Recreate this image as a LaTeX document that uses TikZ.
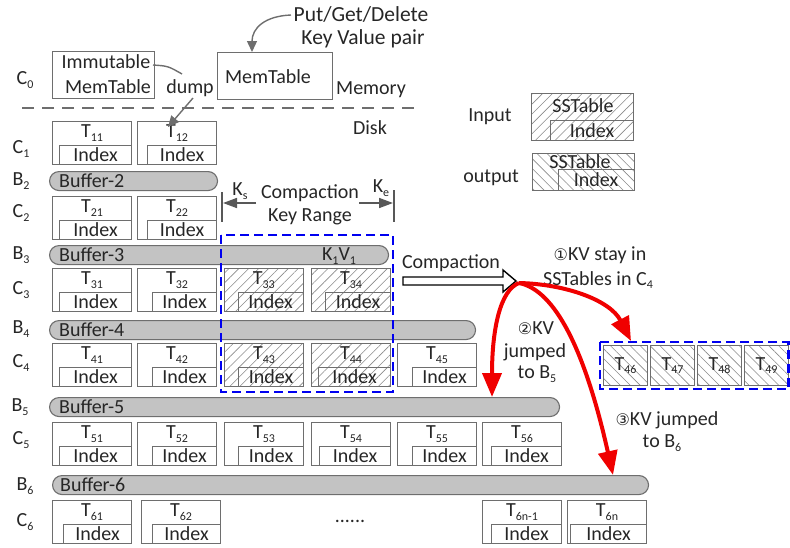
\documentclass[tikz,border=0pt]{standalone}
\usepackage{fontspec}
\setmainfont{Carlito}
\newfontfamily\symfont{DejaVu Sans}
\usetikzlibrary{arrows.meta,patterns.meta,calc}

\definecolor{ink}{HTML}{262626}
\definecolor{edge}{HTML}{6E6E6E}
\definecolor{bufgray}{HTML}{C3C3C3}
\definecolor{hatch}{HTML}{8A8A8A}
\definecolor{kvblue}{HTML}{0000F0}
\definecolor{kvred}{HTML}{F00000}

% lowered small index
\newcommand\lo[1]{\raisebox{-0.35ex}{\fontsize{12}{12}\selectfont #1}}
\newcommand\circnum[1]{{\symfont\fontsize{16}{16}\selectfont #1}}

\tikzset{
  every node/.style={font=\fontsize{20}{20}\selectfont, text=ink, inner sep=0pt},
  bigtext/.style={font=\fontsize{21.5}{21.5}\selectfont},
  tbox/.style={draw=edge, line width=1.1pt, minimum width=79pt, minimum height=43pt, anchor=north west},
  hatchin/.style={pattern={Lines[angle=45,distance=7pt,line width=0.6pt]}, pattern color=hatch},
  hatchout/.style={pattern={Lines[angle=-45,distance=7pt,line width=0.6pt]}, pattern color=hatch},
  idxbox/.style={draw=edge, line width=1.1pt, minimum height=19pt, anchor=south east},
  plainbox/.style={draw=edge, line width=1.1pt, anchor=north west},
  buf/.style={draw=edge, fill=bufgray, line width=1.1pt, rounded corners=9.5pt, minimum height=19pt, anchor=north west},
  thinarrow/.style={draw=edge, line width=1.4pt, -{Triangle[length=11pt,width=10pt]}},
  keyarrow/.style={draw=edge!80!black, line width=1.6pt, -{Triangle[length=14pt,width=10pt]}},
  keybar/.style={draw=edge!80!black, line width=2.5pt},
  redarrow/.style={draw=kvred, line width=4pt, -{Triangle[length=24pt,width=19pt]}},
  bluegroup/.style={draw=kvblue, line width=2.6pt, dash pattern=on 9pt off 5pt},
  cut/.style={draw=edge, line width=2pt, dash pattern=on 12pt off 8pt},
}

% SSTable: name, x, y, subscript, extra style, index inset
\newcommand\sst[6]{%
  \node[tbox,#5] (#1) at (#2,#3) {};
  \node[idxbox, minimum width={79-#6}] (#1x) at (#1.south east) {Index};
  \node (#1t) at ($(#1.north)+(0,12)$) {T\lo{#4}};
}
% small output SSTable of level 4
\newcommand\sso[3]{%
  \node[tbox, hatchout, minimum width=44pt, minimum height=40pt] (#1) at (#2,345) {};
  \node (#1t) at ($(#1.center)+(0,0)$) {T\lo{#3}};
}

\begin{document}
\begin{tikzpicture}[x=1pt,y=-1pt]
\useasboundingbox (0,0) rectangle (790,547);

% ---------------- memory level ----------------
\node[plainbox, minimum width=102pt, minimum height=47pt] (imm) at (52,51) {};
\node (immA) at (106,62) {Immutable};
\node (immB) at (108,87) {MemTable};
\node[plainbox, minimum width=115pt, minimum height=47pt] (mem) at (217,52) {};
\node (memT) at (268,77) {MemTable};
\node[bigtext] (put) at (361,14) {Put/Get/Delete};
\node[bigtext] (kvp) at (363,39) {Key Value pair};
\node (dump) at (190,88) {dump};
\node (memory) at (371,90) {Memory};
\node (disk) at (370,128) {Disk};

\coordinate (cutL) at (22,108);
\coordinate (cutR) at (418,108);
\draw[cut] (cutL) -- (cutR);

% row labels
\node (lc0) at (25,80) {C\lo{0}};
\node (lc1) at (21,149) {C\lo{1}};
\node (lb2) at (21,181) {B\lo{2}};
\node (lc2) at (21,213) {C\lo{2}};
\node (lb3) at (21,255) {B\lo{3}};
\node (lc3) at (21,290) {C\lo{3}};
\node (lb4) at (21,329) {B\lo{4}};
\node (lc4) at (21,363) {C\lo{4}};
\node (lb5) at (20,407) {B\lo{5}};
\node (lc5) at (21,440) {C\lo{5}};
\node (lb6) at (25,486) {B\lo{6}};
\node (lc6) at (25,522) {C\lo{6}};

% ---------------- levels on disk ----------------
\sst{t11}{52}{121}{11}{}{7}
\sst{t12}{137}{121}{12}{}{10}

\node[buf, minimum width=168pt] (b2) at (49,171) {};
\node[anchor=west] (b2t) at ($(b2.west)+(10,0)$) {Buffer-2};

\sst{t21}{52}{196}{21}{}{7}
\sst{t22}{137}{196}{22}{}{10}

\node[buf, minimum width=339pt] (b3) at (49,245) {};
\node[anchor=west] (b3t) at ($(b3.west)+(10,0)$) {Buffer-3};
\node (kv1) at (339,256) {K\lo{1}V\lo{1}};

\sst{t31}{52}{268}{31}{}{7}
\sst{t32}{137}{268}{32}{}{15}
\sst{t33}{224}{268}{33}{hatchin}{14}
\sst{t34}{311}{268}{34}{hatchin}{14}

\node[buf, minimum width=426pt] (b4) at (49,320) {};
\node[anchor=west] (b4t) at ($(b4.west)+(10,0)$) {Buffer-4};

\sst{t41}{52}{343}{41}{}{7}
\sst{t42}{137}{343}{42}{}{15}
\sst{t43}{224}{343}{43}{hatchin}{14}
\sst{t44}{311}{343}{44}{hatchin}{7}
\sst{t45}{397}{343}{45}{}{15}

\node[buf, minimum width=510pt] (b5) at (49,397) {};
\node[anchor=west] (b5t) at ($(b5.west)+(10,0)$) {Buffer-5};

\sst{t51}{52}{422}{51}{}{7}
\sst{t52}{137}{422}{52}{}{15}
\sst{t53}{224}{422}{53}{}{14}
\sst{t54}{311}{422}{54}{}{8}
\sst{t55}{397}{422}{55}{}{15}
\sst{t56}{482}{422}{56}{}{9}

\node[buf, minimum width=596pt] (b6) at (52,475) {};
\node[anchor=west] (b6t) at ($(b6.west)+(8,0)$) {Buffer-6};

\sst{t61}{52}{500}{61}{}{11}
\sst{t62}{141}{500}{62}{}{11}
\node (dots) at (350,521) {......};
\sst{t6m}{482}{500}{6n-1}{}{9}
\sst{t6n}{567}{500}{6n}{}{3}

% ---------------- legend ----------------
\node (inlab) at (490,117) {Input};
\node[plainbox, hatchin, minimum width=102pt, minimum height=47pt] (legin) at (531,93) {};
\node[idxbox, minimum width=83pt, minimum height=20pt] (leginx) at (legin.south east) {Index};
\node (legint) at (583,106) {SSTable};

\node (outlab) at (491,178) {output};
\node[plainbox, hatchout, minimum width=102pt, minimum height=37pt] (legout) at (532,153) {};
\node[idxbox, minimum width=76pt, minimum height=21pt] (legoutx) at (legout.south east) {Index};
\node (legoutt) at (580,162) {SSTable};

% ---------------- dump and write paths ----------------
\coordinate (putS) at (291,15);
\coordinate (memIn) at ($(mem.north west)+(35,0)$);
\draw[thinarrow] (putS) .. controls (265,16) and (252,28) .. (memIn);
\coordinate (immE) at (153,65);
\coordinate (dumpN) at (182,74);
\draw[draw=edge, line width=1.4pt] (immE) .. controls (168,66) .. (dumpN);
\coordinate (dumpS) at (193,98);
\coordinate (t12in) at ($(t12.north west)+(31,6)$);
\draw[thinarrow] (dumpS) -- (t12in);

% ---------------- compaction key range ----------------
\coordinate (ksT) at (222,192);
\coordinate (ksB) at (222,222);
\coordinate (keT) at (394,190);
\coordinate (keB) at (394,222);
\draw[keybar] (ksT) -- (ksB);
\draw[keybar] (keT) -- (keB);
\coordinate (ksA) at (256,203);
\coordinate (ksZ) at (223,203);
\coordinate (keA) at (359,203);
\coordinate (keZ) at (393,203);
\draw[keyarrow] (ksA) -- (ksZ);
\draw[keyarrow] (keA) -- (keZ);
\node (ks) at (240,191) {K\lo{s}};
\node (ke) at (381,188) {K\lo{e}};
\node (crA) at (310,193) {Compaction};
\node (crB) at (310,217) {Key Range};

% ---------------- compaction output ----------------
\node (cmp) at (451,263) {Compaction};
\draw[draw=black, line width=1.4pt, fill=white]
  (403,277) -- (503,277) -- (503,270) -- (516,281) -- (503,292) -- (503,285) -- (403,285) -- cycle;
\coordinate (fork) at (519,283);

\sso{t46}{603}{46}
\sso{t47}{650}{47}
\sso{t48}{697}{48}
\sso{t49}{744}{49}

\node (s1a) at (600,255) {\circnum{①}KV stay in};
\node (s1b) at (598,280) {SSTables in C\lo{4}};
\node (s2a) at (536,328) {\circnum{②}KV};
\node (s2b) at (535,352) {jumped};
\node (s2c) at (537,374) {to B\lo{5}};
\node (s3a) at (667,420) {\circnum{③}KV jumped};
\node (s3b) at (662,443) {to B\lo{6}};

% compaction groups
\draw[bluegroup] (221,235) rectangle (393,392);
\draw[bluegroup] (600,342) rectangle (788.7,389);

% where compacted key-value pairs go
\coordinate (grpTop) at (631,341);
\coordinate (b5Top) at (492,397);
\coordinate (b6Top) at (613,475);
\draw[redarrow] (fork) .. controls (565,284) and (610,300) .. (grpTop);
\draw[redarrow] (fork) .. controls (500,290) and (492,330) .. (b5Top);
\draw[redarrow] (fork) .. controls (555,290) and (585,350) .. (b6Top);
\end{tikzpicture}
\end{document}
